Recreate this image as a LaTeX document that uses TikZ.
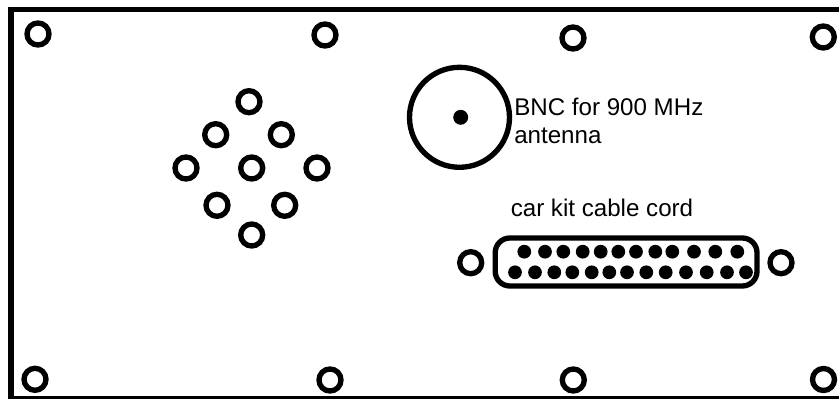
\documentclass[tikz,border=0pt]{standalone}
\usepackage{fontspec}
\setmainfont{Liberation Sans}
\tikzstyle{panel} = [line width=4.1pt, draw = black]
\tikzstyle{hole} = [circle, inner sep=0pt, minimum width=16.5pt, line width=4pt, draw = black]
\tikzstyle{pin} = [circle, inner sep=0pt, minimum width=10.3pt, fill = black]
\tikzstyle{label} = [anchor = base west, inner sep=0pt, font=\fontsize{18.1}{18}\selectfont]
\begin{document}
\begin{tikzpicture}[x=0.75pt,y=-0.75pt]
	\useasboundingbox (0,0) rectangle (839,399);

	%--Panel--%
	\draw[panel] (10.8,9.4) rectangle (850,399);

	%--Mounting Holes--%
	\node(top1)[hole] at (38,34){};
	\node(top2)[hole] at (325,35){};
	\node(top3)[hole] at (573,38){};
	\node(top4)[hole] at (823.3,37){};
	\node(bot1)[hole] at (35,379.3){};
	\node(bot2)[hole] at (330,380){};
	\node(bot3)[hole] at (573.3,380){};
	\node(bot4)[hole] at (823.5,379.5){};

	%--Speaker Holes--%
	\node(spk1)[hole] at (249,101.7){};
	\node(spk2)[hole] at (215.7,134.7){};
	\node(spk3)[hole] at (281.3,134.7){};
	\node(spk4)[hole] at (186,168){};
	\node(spk5)[hole] at (251.7,168){};
	\node(spk6)[hole] at (317,168){};
	\node(spk7)[hole] at (217,205.3){};
	\node(spk8)[hole] at (284.7,205.3){};
	\node(spk9)[hole] at (251.7,235){};

	%--BNC--%
	\node(bnc)[circle, inner sep=0pt, minimum width=75pt, line width=4pt, draw = black] at (459.5,117.3){};
	\node(bncpin)[pin, minimum width=11.2pt] at (460.7,117.3){};
	\node(bnclab1)[label] at (514,115.7){BNC for 900 MHz};
	\node(bnclab2)[label] at (514,143.3){antenna};

	%--Car Kit Connector--%
	\node(carlab)[label] at (510.5,216){car kit cable cord};
	\node(screw1)[hole] at (470.7,262.7){};
	\node(screw2)[hole] at (781,262.7){};
	\draw[line width=4pt, rounded corners=11pt] (495.2,238) rectangle (757,286);

	%--Upper Pins--%
	\node(a1)[pin] at (524.3,251.7){};
	\node(a2)[pin] at (545,251.7){};
	\node(a3)[pin] at (563.3,251.7){};
	\node(a4)[pin] at (582.7,251.7){};
	\node(a5)[pin] at (600.7,251.7){};
	\node(a6)[pin] at (618.3,251.7){};
	\node(a7)[pin] at (636,251.7){};
	\node(a8)[pin] at (655.3,251.7){};
	\node(a9)[pin] at (672.3,251.7){};
	\node(a10)[pin] at (694,251.7){};
	\node(a11)[pin] at (715.3,251.7){};
	\node(a12)[pin] at (737.3,251.7){};

	%--Lower Pins--%
	\node(b1)[pin] at (515,272.3){};
	\node(b2)[pin] at (535,272.3){};
	\node(b3)[pin] at (554.3,272.3){};
	\node(b4)[pin] at (572.3,272.3){};
	\node(b5)[pin] at (591.7,272.3){};
	\node(b6)[pin] at (609.3,272.3){};
	\node(b7)[pin] at (627,272.3){};
	\node(b8)[pin] at (646.3,272.3){};
	\node(b9)[pin] at (665.7,272.3){};
	\node(b10)[pin] at (686,272.3){};
	\node(b11)[pin] at (706.7,272.3){};
	\node(b12)[pin] at (727,272.3){};
	\node(b13)[pin] at (746,272.3){};
\end{tikzpicture}
\end{document}
